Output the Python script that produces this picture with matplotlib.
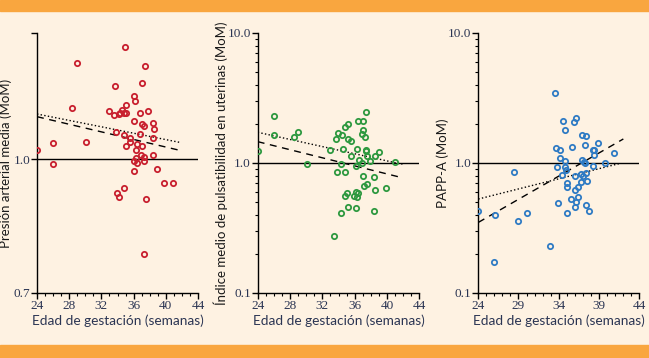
import matplotlib
matplotlib.use("Agg")
import matplotlib.pyplot as plt
from matplotlib.ticker import FixedLocator, MultipleLocator, NullFormatter, LogLocator

# semanas de gestacion y valores MoM
pam_x = [24.0, 26.0, 26.0, 29.0, 28.4, 30.1, 34.9, 37.4, 37.0, 33.7, 36.0, 36.2, 35.1, 34.5,
         33.0, 33.6, 34.2, 34.35, 34.85, 35.1, 36.8, 37.85, 36.1, 37.1, 37.3, 38.35, 38.5,
         33.85, 34.8, 36.8, 35.55, 35.5, 38.45, 35.05, 36.4, 37.0, 36.35, 37.25, 36.95, 38.35,
         36.3, 36.05, 36.4, 37.35, 36.1, 38.9, 39.75, 40.95, 34.8, 33.9, 34.2, 37.5, 37.35]
pam_y = [1.026, 1.043, 0.986, 1.292, 1.146, 1.047, 1.349, 1.281, 1.226, 1.216, 1.184, 1.169,
         1.154, 1.140, 1.136, 1.124, 1.129, 1.132, 1.130, 1.130, 1.130, 1.136, 1.108, 1.099,
         1.092, 1.100, 1.083, 1.074, 1.067, 1.070, 1.058, 1.047, 1.057, 1.037, 1.040, 1.035,
         1.025, 1.007, 1.010, 1.012, 1.003, 0.996, 0.991, 0.996, 0.970, 0.973, 0.939, 0.939,
         0.927, 0.913, 0.903, 0.899, 0.777]

ip_x = [24.0, 26.0, 26.0, 28.45, 29.0, 30.1, 32.95, 33.5, 33.7, 33.95, 34.4, 34.85, 35.2, 35.2,
        35.6, 34.6, 34.26, 33.8, 34.85, 35.6, 36.3, 36.5, 36.15, 36.9, 36.45, 37.07, 37.45,
        37.07, 36.9, 37.28, 37.45, 37.45, 37.57, 37.94, 38.56, 39.05, 41.03, 37.03, 38.43,
        37.15, 37.5, 38.56, 39.88, 36.15, 36.35, 35.95, 35.05, 34.85, 36.3, 35.2, 36.15,
        34.26, 38.43]
ip_y = [1.244, 2.30, 1.652, 1.576, 1.731, 0.977, 1.251, 0.274, 1.539, 1.701, 1.642, 1.893,
        1.995, 1.520, 1.468, 1.281, 0.977, 0.853, 0.853, 1.132, 1.289, 1.048, 0.948, 0.994,
        2.117, 2.117, 2.469, 1.795, 1.681, 1.594, 1.266, 1.229, 1.125, 1.030, 1.125, 1.222,
        1.024, 0.790, 0.776, 0.669, 0.694, 0.623, 0.642, 0.595, 0.588, 0.561, 0.585, 0.557,
        0.548, 0.459, 0.448, 0.410, 0.427]

papp_x = [24.0, 26.03, 26.0, 28.44, 28.98, 30.1, 32.96, 33.5, 33.63, 34.2, 34.2, 33.83, 33.9,
          34.5, 34.8, 34.8, 34.8, 34.9, 34.4, 35.6, 35.1, 35.1, 35.55, 35.1, 35.9, 36.2, 36.05,
          36.05, 36.4, 36.4, 36.1, 36.07, 36.9, 37.35, 37.3, 36.95, 37.15, 37.25, 36.8, 37.0,
          37.35, 36.75, 37.55, 37.35, 37.8, 38.27, 38.44, 38.44, 38.3, 38.9, 39.73, 40.85]
papp_y = [0.424, 0.398, 0.174, 0.858, 0.355, 0.412, 0.229, 3.44, 1.313, 1.267, 1.093, 0.937,
          0.495, 2.105, 1.785, 1.030, 0.926, 0.888, 0.808, 1.320, 0.706, 0.650, 0.525, 0.412,
          2.07, 2.22, 0.794, 0.616, 0.653, 0.547, 0.504, 0.455, 1.633, 1.614, 1.376, 1.055,
          1.018, 1.006, 0.818, 0.799, 0.842, 0.710, 0.731, 0.475, 0.427, 1.267, 1.267, 1.152,
          0.948, 1.426, 0.994, 1.187]

# rectas de regresion (extremos)
pam_dot_x, pam_dot_y = [24, 41.7], [1.128, 1.046]
pam_dash_x, pam_dash_y = [24, 42.1], [1.120, 1.022]
ip_dot_x, ip_dot_y = [24, 41.9], [1.722, 0.977]
ip_dash_x, ip_dash_y = [24, 42.0], [1.459, 0.767]
papp_dot_x, papp_dot_y = [24, 41.5], [0.528, 0.988]
papp_dash_x, papp_dash_y = [24, 42.05], [0.349, 1.53]

bg = "#FEF2E2"
naranja = "#F9A63F"
lab_font = ["Lato", "DejaVu Sans"]
tick_font = "Liberation Serif"
texto = "#2B3553"

fig = plt.figure(figsize=(6.49, 3.58), dpi=100)
fig.patch.set_facecolor(bg)
# franjas naranjas arriba y abajo
fig.add_artist(plt.Rectangle((0, 1 - 10.5 / 358), 1, 10.5 / 358, transform=fig.transFigure,
                             color=naranja, zorder=0))
fig.add_artist(plt.Rectangle((0, 0), 1, 13 / 358, transform=fig.transFigure,
                             color=naranja, zorder=0))


def panel(left, width, x, y, dot, dash, color, ylabel, ylab_x, xticks, ylim, yticks, yticklabels, minor_y):
    ax = fig.add_axes([left, 0.1816, width, 0.7263])
    ax.set_facecolor(bg)
    ax.set_yscale("log")
    ax.plot(x, y, "o", ms=3.8, mfc="none", mec=color, mew=1.3, zorder=3)
    ax.plot(dot[0], dot[1], ":", color="black", lw=1.0)
    ax.plot(dash[0], dash[1], "--", color="black", lw=1.0, dashes=(5, 4))
    ax.axhline(1.0, color="black", lw=1.0)
    ax.set_xlim(24, 44)
    ax.set_ylim(*ylim)
    for s in ["top", "right"]:
        ax.spines[s].set_visible(False)
    for s in ["left", "bottom"]:
        ax.spines[s].set_linewidth(1.0)
    ax.set_xticks(xticks, [str(v) for v in xticks])
    ax.xaxis.set_minor_locator(MultipleLocator(1))
    if minor_y:
        ax.yaxis.set_minor_locator(LogLocator(base=10, subs=range(2, 10)))
    else:
        ax.yaxis.set_minor_locator(FixedLocator([]))
    ax.yaxis.set_minor_formatter(NullFormatter())
    ax.set_yticks(yticks, yticklabels)
    ax.tick_params(which="major", direction="out", length=4, width=1, pad=1, labelsize=9.5,
                   labelcolor=texto)
    ax.tick_params(which="minor", direction="out", length=2.5, width=0.8)
    for t in ax.get_xticklabels() + ax.get_yticklabels():
        t.set_fontfamily(tick_font)
    ax.set_xlabel("Edad de gestación (semanas)", fontsize=9.8, family=lab_font,
                  color=texto, labelpad=2)
    ax.set_ylabel(ylabel, fontsize=9.5, family=lab_font, color="#1a1a1a")
    ax.yaxis.set_label_coords(ylab_x, 0.5)
    return ax


panel(0.0570, 0.2481, pam_x, pam_y, (pam_dot_x, pam_dot_y), (pam_dash_x, pam_dash_y),
      "#C8202F", "Presión arterial media (MoM)", -0.155, [24, 28, 32, 36, 40, 44],
      (0.7, 1.4), [0.7, 1.0, 1.4], ["0.7", "1.0", ""], False)
panel(0.3971, 0.2490, ip_x, ip_y, (ip_dot_x, ip_dot_y), (ip_dash_x, ip_dash_y),
      "#2E9940", "Índice medio de pulsatibilidad en uterinas (MoM)", -0.185, [24, 28, 32, 36, 40, 44],
      (0.1, 10), [0.1, 1.0, 10.0], ["0.1", "1.0", "10.0"], True)
panel(0.7370, 0.2476, papp_x, papp_y, (papp_dot_x, papp_dot_y), (papp_dash_x, papp_dash_y),
      "#2F7BC4", "PAPP-A (MoM)", -0.18, [24, 29, 34, 39, 44],
      (0.1, 10), [0.1, 1.0, 10.0], ["0.1", "1.0", "10.0"], True)

plt.savefig("out.png", dpi=100, facecolor=bg)
